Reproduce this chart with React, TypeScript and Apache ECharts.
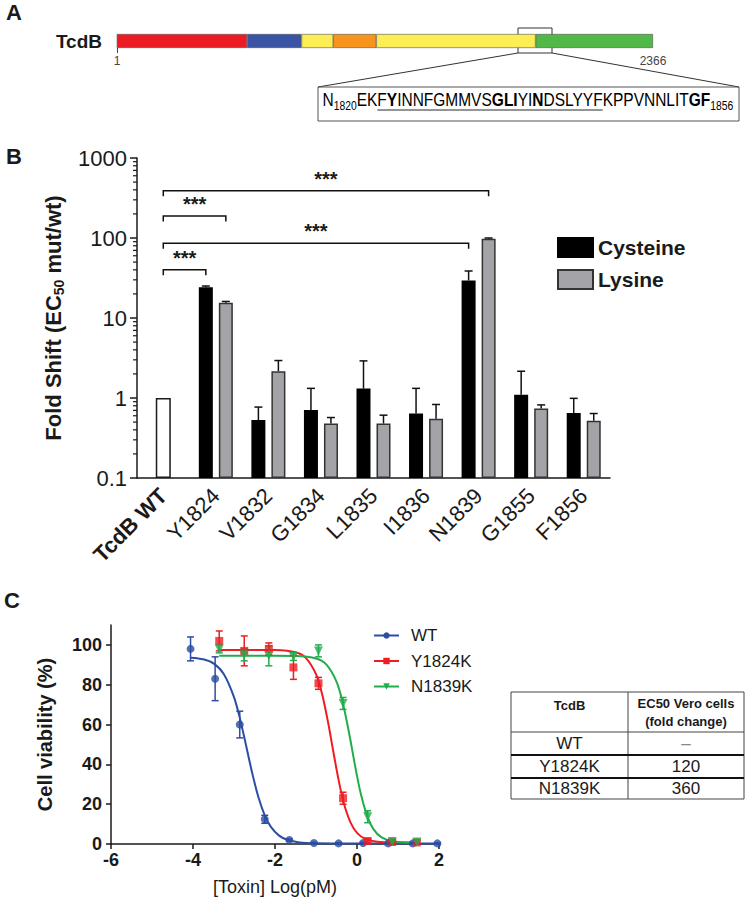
import React, { useEffect, useRef } from 'react';
import * as echarts from 'echarts';

const FONT = '"Liberation Sans", Arial, Helvetica, sans-serif';
const INK = '#1a1a1a';
const BLUE = '#2b4ea4';
const RED = '#ee1d23';
const GREEN = '#22ad4b';

// ---------------- Panel A ----------------
const proteinName = ['TcdB'];
const domainEnds = [575, 815, 955, 1145, 1848, 2366];
const domainColors = ['#ed1c24', '#3a53a4', '#fdee55', '#f7941d', '#fdee55', '#52b848'];
const proteinEndLabels = [1, 2366];
// [text, style (n normal / b bold / s subscript), underlined]
const seqTokens: [string, string, number][] = [
  ['N', 'n', 0], ['1820', 's', 0], ['EK', 'n', 0], ['F', 'n', 1], ['Y', 'b', 1],
  ['INNFGMMVS', 'n', 1], ['GLI', 'b', 1], ['YI', 'n', 1], ['N', 'b', 1], ['DSLYYF', 'n', 1],
  ['KPPVNNLIT', 'n', 0], ['GF', 'b', 0], ['1856', 's', 0],
];

// ---------------- Panel B ----------------
const mutants = ['TcdB WT', 'Y1824', 'V1832', 'G1834', 'L1835', 'I1836', 'N1839', 'G1855', 'F1856'];
const wtFold = [1, null, null, null, null, null, null, null, null];
const cysteineFold = [null, 24.3, 0.53, 0.71, 1.31, 0.64, 29.4, 1.1, 0.65];
const cysteineSD = [null, 0.8, 0.24, 0.61, 1.6, 0.68, 9.3, 1.06, 0.34];
const lysineFold = [null, 15.5, 2.16, 0.48, 0.48, 0.55, 98, 0.74, 0.52];
const lysineSD = [null, 0.6, 0.78, 0.09, 0.13, 0.28, 2, 0.08, 0.12];
const foldMinorTicks = [
  0.2, 0.3, 0.4, 0.5, 0.6, 0.7, 0.8, 0.9,
  2, 3, 4, 5, 6, 7, 8, 9,
  20, 30, 40, 50, 60, 70, 80, 90,
  200, 300, 400, 500, 600, 700, 800, 900,
];
// [from category, from slot, to category, to slot, level]
const sigBrackets = [
  [0, 0, 6, 1, 390],
  [0, 0, 1, 1, 188],
  [0, 0, 6, -1, 86],
  [0, 0, 1, -1, 40],
];
const sigLabel = '***';

// ---------------- Panel C ----------------
const wtX = [-4.06, -3.46, -2.86, -2.25, -1.65, -1.05, -0.45, 0.15, 0.76, 1.36, 1.96];
const wtY = [98, 83, 60, 12.4, 2, 0.5, 0.3, 0.5, 0.3, 0.3, 0.3];
const wtSD = [6, 11, 6.7, 2, 0.5, 0.3, 0.3, 0.3, 0.3, 0.3, 0.3];
const y1824X = [-3.36, -2.75, -2.15, -1.55, -0.94, -0.34, 0.26, 0.86, 1.46];
const y1824Y = [102, 97, 98, 88.7, 80.7, 23, 1.5, 1, 0.8];
const y1824SD = [5, 7.5, 3, 6, 3, 3, 1, 1, 1];
const n1839X = [-3.36, -2.75, -2.15, -1.55, -0.94, -0.34, 0.26, 0.86, 1.46];
const n1839Y = [98, 95, 94.5, 94.2, 97, 70.6, 13.7, 1.2, 1];
const n1839SD = [2, 3, 5, 2, 3, 3, 3, 1, 1];
const wtCurveX = [-4.05, -3.75, -3.5, -3.25, -3.0, -2.85, -2.7, -2.55, -2.4, -2.25, -2.1, -1.9, -1.7, -1.4, -1.0, 0, 2];
const wtCurveY = [93.6, 92.8, 90.7, 85.4, 73.8, 62.6, 49, 35.1, 23.2, 14.4, 8.6, 4.2, 2.1, 0.8, 0.4, 0.3, 0.3];
const y1824CurveX = [-3.36, -2.5, -2.0, -1.5, -1.25, -1.0, -0.85, -0.7, -0.6, -0.5, -0.4, -0.3, -0.15, 0, 0.2, 0.5, 1.0, 1.46];
const y1824CurveY = [97.5, 97.5, 97.4, 96.3, 93.5, 85.3, 75.2, 60.5, 49, 37.6, 27.3, 19, 10.5, 5.6, 2.6, 1.1, 0.7, 0.6];
const n1839CurveX = [-3.36, -2.0, -1.5, -1.0, -0.75, -0.5, -0.35, -0.2, -0.1, 0, 0.1, 0.25, 0.4, 0.6, 0.9, 1.46];
const n1839CurveY = [94.5, 94.5, 94.4, 93.2, 90.2, 81.6, 71.2, 56.5, 45.3, 34.2, 24.6, 14, 7.5, 3.3, 1.2, 0.55];
const viabilityTicks = [0, 20, 40, 60, 80, 100];

// Table
const tableHeader = ['TcdB', 'EC50 Vero cells\n(fold change)'];
const tableVariants = ['WT', 'Y1824K', 'N1839K'];
const tableFoldChange = ['\u2013', '120', '360'];

const zip = (xs: number[], ys: number[]) => xs.map((x, i) => [x, ys[i]]);

function textWidth(t: string, size: number, bold: boolean) {
  const c = document.createElement('canvas').getContext('2d')!;
  c.font = `${bold ? 'bold ' : ''}${size}px ${FONT}`;
  return c.measureText(t).width;
}

const SLOT = 10;

function buildOption() {
  const seqSize = 18;
  const subSize = 12;
  let cursor = 0;
  let uStart = -1;
  let uEnd = 0;
  const richStr = seqTokens.map(([t, s]) => `{${s}|${t}}`).join('');
  seqTokens.forEach(([t, s, u]) => {
    const w = textWidth(t, s === 's' ? subSize : seqSize, s === 'b');
    if (u && uStart < 0) uStart = cursor;
    cursor += w;
    if (u) uEnd = cursor;
  });
  const seqScale = 411 / cursor;

  const errB: any[] = [];
  mutants.forEach((_, i) => {
    if (cysteineFold[i] != null) errB.push([i, cysteineFold[i], (cysteineFold[i] as number) + (cysteineSD[i] as number), -1]);
    if (lysineFold[i] != null) errB.push([i, lysineFold[i], (lysineFold[i] as number) + (lysineSD[i] as number), 1]);
  });

  const errRender = (params: any, api: any) => {
    const x = api.value(0), y = api.value(1), sd = api.value(2);
    const hi = api.coord([x, y + sd]);
    const lo = api.coord([x, Math.max(y - sd, 0)]);
    const color = api.visual('color');
    const cw = 3.5;
    const st = { stroke: color, lineWidth: 1.5 };
    return {
      type: 'group',
      children: [
        { type: 'line', shape: { x1: hi[0], y1: hi[1], x2: lo[0], y2: lo[1] }, style: st },
        { type: 'line', shape: { x1: hi[0] - cw, y1: hi[1], x2: hi[0] + cw, y2: hi[1] }, style: st },
        { type: 'line', shape: { x1: lo[0] - cw, y1: lo[1], x2: lo[0] + cw, y2: lo[1] }, style: st },
      ],
    };
  };

  const curveSeries = (name: string, xs: number[], ys: number[], color: string, symbol: string) => ({
    type: 'line', name, xAxisIndex: 3, yAxisIndex: 2, data: zip(xs, ys), smooth: 0.3,
    showSymbol: false, symbol, symbolSize: 8, lineStyle: { width: 2, color }, itemStyle: { color }, silent: true, z: 3,
  });
  const pointSeries = (name: string, xs: number[], ys: number[], color: string, symbol: string, size: number) => ({
    type: 'scatter', name, xAxisIndex: 3, yAxisIndex: 2, data: zip(xs, ys), symbol, symbolSize: size,
    itemStyle: { color }, silent: true, z: 5,
  });
  const errSeries = (xs: number[], ys: number[], sds: number[], color: string) => ({
    type: 'custom', xAxisIndex: 3, yAxisIndex: 2, data: xs.map((x, i) => [x, ys[i], sds[i]]),
    encode: { x: 0, y: 1 }, renderItem: errRender, itemStyle: { color }, silent: true, z: 4,
  });
  const triDown = 'path://M0,0L10,0L5,9Z';

  const tx0 = 511, tx1 = 628, tx2 = 744;
  const ty = [692, 732, 755, 778, 799];

  const tableChildren: any[] = [
    { type: 'rect', shape: { x: tx0, y: ty[0], width: tx2 - tx0, height: ty[4] - ty[0] }, style: { fill: 'none', stroke: '#444', lineWidth: 1 } },
    { type: 'line', shape: { x1: tx1, y1: ty[0], x2: tx1, y2: ty[4] }, style: { stroke: '#444', lineWidth: 1 } },
    { type: 'line', shape: { x1: tx0, y1: ty[1], x2: tx2, y2: ty[1] }, style: { stroke: '#444', lineWidth: 1 } },
    { type: 'line', shape: { x1: tx0, y1: ty[2], x2: tx2, y2: ty[2] }, style: { stroke: '#111', lineWidth: 2 } },
    { type: 'line', shape: { x1: tx0, y1: ty[3], x2: tx2, y2: ty[3] }, style: { stroke: '#111', lineWidth: 2 } },
    { type: 'text', x: (tx0 + tx1) / 2, y: 705, style: { text: tableHeader[0], font: `bold 13px ${FONT}`, fill: INK, align: 'center', verticalAlign: 'middle' } },
    { type: 'text', x: (tx1 + tx2) / 2, y: 712.5, style: { text: tableHeader[1], font: `bold 13px ${FONT}`, lineHeight: 17.5, fill: INK, align: 'center', verticalAlign: 'middle' } },
  ];
  tableVariants.forEach((v, i) => {
    const cy = (ty[i + 1] + ty[i + 2]) / 2;
    tableChildren.push({ type: 'text', x: (tx0 + tx1) / 2, y: cy, style: { text: v, font: `17px ${FONT}`, fill: INK, align: 'center', verticalAlign: 'middle' } });
    tableChildren.push({ type: 'text', x: (tx1 + tx2) / 2, y: cy, style: { text: tableFoldChange[i], font: `17px ${FONT}`, fill: i === 0 ? '#888' : INK, align: 'center', verticalAlign: 'middle' } });
  });

  const richSeq = {
    n: { fontSize: seqSize, fontFamily: FONT, color: INK, lineHeight: 22 },
    b: { fontSize: seqSize, fontFamily: FONT, color: INK, fontWeight: 'bold', lineHeight: 22 },
    s: { fontSize: subSize, fontFamily: FONT, color: INK, lineHeight: 12, verticalAlign: 'bottom' },
  };

  return {
    animation: false,
    textStyle: { fontFamily: FONT, color: INK },
    grid: [
      { left: 117, top: 34, width: 536, height: 14 },
      { left: 137, top: 158, width: 473, height: 320 },
      { left: 111, top: 625, width: 328, height: 219 },
    ],
    legend: [
      {
        data: ['Cysteine', 'Lysine'], orient: 'vertical', left: 557, top: 237, padding: 0, itemWidth: 35, itemHeight: 19, itemGap: 11,
        icon: 'rect', selectedMode: false,
        textStyle: { fontSize: 21, fontWeight: 'bold', color: INK, fontFamily: FONT, lineHeight: 19 },
      },
      {
        data: ['WT', 'Y1824K', 'N1839K'], orient: 'vertical', left: 373, top: 627, padding: 0, itemWidth: 25, itemHeight: 8, itemGap: 8.5,
        selectedMode: false,
        textStyle: { fontSize: 17, color: INK, fontFamily: FONT, lineHeight: 17, padding: [0, 0, 0, 7] },
      },
    ],
    xAxis: [
      {
        gridIndex: 0, type: 'value', min: 1, max: 2366, splitLine: { show: false }, axisLine: { show: false },
        axisTick: { show: true, customValues: [1], length: 5, lineStyle: { color: '#444' } },
        axisLabel: { customValues: proteinEndLabels, fontSize: 12, color: '#444', margin: 7, formatter: (v: number) => String(Math.round(v)) },
      },
      {
        gridIndex: 1, type: 'category', data: mutants,
        axisLine: { lineStyle: { color: INK, width: 1.5 } },
        axisTick: { alignWithLabel: true, length: 7, lineStyle: { width: 1.5, color: INK } },
        axisLabel: {
          rotate: 45, fontSize: 22, color: INK, margin: 14, interval: 0,
          formatter: (v: string, i: number) => (i === 0 ? `{b|${v}}` : v),
          rich: { b: { fontWeight: 'bold', fontSize: 22, fontFamily: FONT, color: INK } },
        },
      },
      { gridIndex: 1, type: 'category', data: mutants, show: false },
      {
        gridIndex: 2, type: 'value', min: -6, max: 2, interval: 2, splitLine: { show: false },
        axisLine: { onZero: false, lineStyle: { color: INK, width: 1.5 } },
        axisTick: { length: 5, lineStyle: { color: INK, width: 1.5 } },
        axisLabel: { fontSize: 18, fontWeight: 'bold', color: INK, margin: 7 },
        name: '[Toxin] Log(pM)', nameLocation: 'middle', nameGap: 34,
        nameTextStyle: { fontSize: 18, color: INK, lineHeight: 18 },
      },
    ],
    yAxis: [
      {
        gridIndex: 0, type: 'category', data: proteinName, axisLine: { show: false }, axisTick: { show: false },
        axisLabel: { fontSize: 19, fontWeight: 'bold', color: INK, margin: 15 },
      },
      {
        gridIndex: 1, type: 'log', logBase: 10, min: 0.1, max: 1000, startValue: 0.1, splitLine: { show: false },
        axisLine: { show: true, onZero: false, lineStyle: { color: INK, width: 1.5 } },
        axisTick: { show: true, length: 7, lineStyle: { color: INK, width: 1.5 } },
        axisLabel: { fontSize: 22, color: INK, margin: 10, formatter: (v: number) => (v < 1 ? v.toFixed(1) : String(Math.round(v))) },
        name: '{t|Fold Shift (EC}{s|50}{t| mut/wt)}', nameLocation: 'middle', nameRotate: 90, nameGap: 71,
        nameTextStyle: {
          rich: {
            t: { fontSize: 22, fontWeight: 'bold', color: INK, fontFamily: FONT, lineHeight: 26 },
            s: { fontSize: 14, fontWeight: 'bold', color: INK, fontFamily: FONT, lineHeight: 14, verticalAlign: 'bottom' },
          },
        },
      },
      {
        gridIndex: 2, type: 'value', min: 0, max: 110, interval: 20, splitLine: { show: false },
        axisLine: { show: true, onZero: false, lineStyle: { color: INK, width: 1.5 } },
        axisTick: { show: true, length: 5, customValues: viabilityTicks, lineStyle: { color: INK, width: 1.5 } },
        axisLabel: { customValues: viabilityTicks, fontSize: 18, fontWeight: 'bold', color: INK, margin: 9 },
        name: 'Cell viability (%)', nameLocation: 'middle', nameRotate: 90, nameGap: 56,
        nameTextStyle: { fontSize: 20, fontWeight: 'bold', color: INK, lineHeight: 20 },
      },
    ],
    series: [
      // Panel A domains
      ...domainEnds.map((end, i) => ({
        type: 'bar', xAxisIndex: 0, yAxisIndex: 0, stack: 'domains', silent: true,
        data: [end - (i ? domainEnds[i - 1] : 0)], barCategoryGap: '0%', barWidth: 14,
        itemStyle: { color: domainColors[i], borderColor: '#555', borderWidth: 0.6 },
      })),
      // Panel B
      {
        type: 'bar', name: 'TcdB WT fold', xAxisIndex: 2, yAxisIndex: 1, silent: true,
        data: wtFold.map((v) => (v == null ? '-' : v)), barWidth: 15,
        itemStyle: { color: '#fff', borderColor: INK, borderWidth: 1.5 },
      },
      {
        type: 'bar', name: 'Cysteine', xAxisIndex: 1, yAxisIndex: 1, silent: true,
        data: cysteineFold.map((v) => (v == null ? '-' : v)), barWidth: 14, barGap: '43%',
        itemStyle: { color: '#000', borderColor: '#000', borderWidth: 1.5 },
      },
      {
        type: 'bar', name: 'Lysine', xAxisIndex: 1, yAxisIndex: 1, silent: true,
        data: lysineFold.map((v) => (v == null ? '-' : v)), barWidth: 14, barGap: '43%',
        itemStyle: { color: '#a4a4a8', borderColor: '#333', borderWidth: 1.5 },
      },
      {
        type: 'custom', xAxisIndex: 1, yAxisIndex: 1, data: errB, encode: { x: 0, y: 2 }, silent: true, z: 4,
        renderItem: (params: any, api: any) => {
          const off = api.value(3) * SLOT;
          const top = api.coord([api.value(0), api.value(2)]);
          const base = api.coord([api.value(0), api.value(1)]);
          const x = top[0] + off;
          const st = { stroke: '#111', lineWidth: 1.5 };
          return {
            type: 'group',
            children: [
              { type: 'line', shape: { x1: x, y1: base[1], x2: x, y2: top[1] }, style: st },
              { type: 'line', shape: { x1: x - 4, y1: top[1], x2: x + 4, y2: top[1] }, style: st },
            ],
          };
        },
      },
      {
        type: 'custom', xAxisIndex: 1, yAxisIndex: 1, data: sigBrackets, encode: { x: 0, y: 4 }, silent: true, z: 4,
        renderItem: (params: any, api: any) => {
          const p1 = api.coord([api.value(0), api.value(4)]);
          const p2 = api.coord([api.value(2), api.value(4)]);
          const x1 = p1[0] + api.value(1) * SLOT;
          const x2 = p2[0] + api.value(3) * SLOT;
          const y = p1[1];
          return {
            type: 'group',
            children: [
              { type: 'polyline', shape: { points: [[x1, y + 5.5], [x1, y], [x2, y], [x2, y + 5.5]] }, style: { stroke: '#111', lineWidth: 1.5, fill: 'none' } },
              { type: 'text', x: (x1 + x2) / 2, y: y - 2, style: { text: sigLabel, font: `bold 20px ${FONT}`, fill: INK, align: 'center', verticalAlign: 'bottom' } },
            ],
          };
        },
      },
      {
        type: 'custom', xAxisIndex: 1, yAxisIndex: 1, data: foldMinorTicks.map((v) => [0, v]), encode: { x: 0, y: 1 }, silent: true,
        renderItem: (params: any, api: any) => {
          const y = api.coord([0, api.value(1)])[1];
          const x0 = params.coordSys.x;
          return { type: 'line', shape: { x1: x0 - 4, y1: y, x2: x0, y2: y }, style: { stroke: INK, lineWidth: 1.2 } };
        },
      },
      // Panel C
      curveSeries('WT', wtCurveX, wtCurveY, BLUE, 'circle'),
      curveSeries('Y1824K', y1824CurveX, y1824CurveY, RED, 'rect'),
      curveSeries('N1839K', n1839CurveX, n1839CurveY, GREEN, triDown),
      errSeries(wtX, wtY, wtSD, BLUE),
      errSeries(y1824X, y1824Y, y1824SD, RED),
      errSeries(n1839X, n1839Y, n1839SD, GREEN),
      pointSeries('WT points', wtX, wtY, BLUE, 'circle', 8),
      pointSeries('Y1824K points', y1824X, y1824Y, RED, 'rect', 8),
      pointSeries('N1839K points', n1839X, n1839Y, GREEN, triDown, 9),
    ],
    graphic: [
      { type: 'text', x: 6, y: 12, style: { text: 'A', font: `bold 22px ${FONT}`, fill: INK, verticalAlign: 'middle' } },
      { type: 'text', x: 6, y: 156, style: { text: 'B', font: `bold 22px ${FONT}`, fill: INK, verticalAlign: 'middle' } },
      { type: 'text', x: 4, y: 600, style: { text: 'C', font: `bold 22px ${FONT}`, fill: INK, verticalAlign: 'middle' } },
      // zoom box on the protein bar
      { type: 'rect', shape: { x: 518, y: 28, width: 34, height: 25 }, style: { fill: 'none', stroke: '#333', lineWidth: 1 } },
      { type: 'line', shape: { x1: 518, y1: 53, x2: 318, y2: 87 }, style: { stroke: '#333', lineWidth: 1 } },
      { type: 'line', shape: { x1: 552, y1: 53, x2: 739, y2: 87 }, style: { stroke: '#333', lineWidth: 1 } },
      { type: 'rect', shape: { x: 318, y: 87, width: 421, height: 34 }, style: { fill: 'none', stroke: '#555', lineWidth: 1 } },
      {
        type: 'group', x: 322.5, y: 100.5, scaleX: seqScale,
        children: [
          { type: 'text', x: 0, y: 0, style: { text: richStr, rich: richSeq, verticalAlign: 'middle', align: 'left' } },
          { type: 'line', shape: { x1: uStart, y1: 9.5, x2: uEnd, y2: 9.5 }, style: { stroke: INK, lineWidth: 1 } },
        ],
      },
      { type: 'group', children: tableChildren },
    ],
  };
}

export default function App() {
  const ref = useRef<HTMLDivElement>(null);
  useEffect(() => {
    if (!ref.current) return;
    const chart = echarts.init(ref.current, undefined, { renderer: 'svg' });
    chart.setOption(buildOption() as any);
    return () => chart.dispose();
  }, []);
  return (
    <div style={{ position: 'absolute', left: 0, top: 0, width: 745, height: 897, background: '#fff' }}>
      <div ref={ref} style={{ width: 745, height: 897 }} />
    </div>
  );
}
